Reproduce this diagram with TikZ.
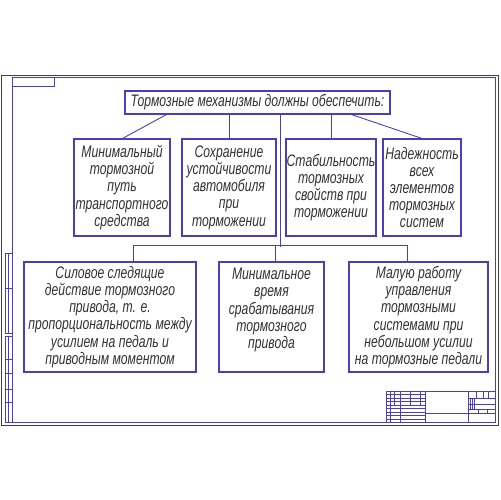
\documentclass[tikz,border=0pt]{standalone}
\usepackage{fontspec}
\setmainfont{Liberation Sans}[FakeStretch=0.73]
\usetikzlibrary{calc}
\definecolor{frameblue}{RGB}{72,62,190}
\definecolor{txt}{RGB}{50,50,50}
\begin{document}
\begin{tikzpicture}[x=0.02cm,y=-0.02cm,
  frameline/.style={draw=frameblue, line width=0.55pt},
  thinline/.style={draw=frameblue, line width=0.35pt},
  box/.style 2 args={draw=frameblue, line width=0.6pt, inner sep=0pt, align=center, text=txt,
    font=\itshape\fontsize{9.5}{9.8}\selectfont,
    minimum width=#1*0.02cm, minimum height=#2*0.02cm},
  conn/.style={draw=frameblue, line width=0.5pt}]
\useasboundingbox[fill=white] (0,0) rectangle (500,500);
% sheet and frame
\draw[black!75, line width=0.5pt] (1,75) rectangle (498,425);
\draw[frameline] (12,77) rectangle (495,422);
\draw[thinline] (12,77) rectangle (54,86);
% left strip
\draw[thinline] (5,253) rectangle (12,333);
\draw[thinline] (5,288) -- (12,288);
\draw[thinline] (8,253) -- (8,333);
\draw[thinline] (5,336) rectangle (12,422);
\foreach \yy in {359,373,389,402} \draw[thinline] (5,\yy) -- (12,\yy);
\draw[thinline] (8,336) -- (8,422);
% title block
\draw[thinline] (386,391) rectangle (495,422);
\foreach \xx in {390,400,425,468} \draw[thinline] (\xx,391) -- (\xx,422);
\foreach \xx in {394,410,420} \draw[thinline] (\xx,391) -- (\xx,405);
\foreach \yy in {394.5,398,401.5,405,408.5,412,415.5,419} \draw[thinline] (386,\yy) -- (425,\yy);
\draw[thinline] (425,413) -- (495,413);
\draw[thinline] (468,398) -- (495,398);
\draw[thinline] (468,404) -- (495,404);
\draw[thinline] (468,409) -- (495,409);
\foreach \xx in {476,483,488} \draw[thinline] (\xx,391) -- (\xx,398);
\foreach \xx in {470,472,474} \draw[thinline] (\xx,398) -- (\xx,409);
\foreach \xx in {478,487} \draw[thinline] (\xx,409) -- (\xx,413);
% nodes
\node[box={265}{23}] (top) at (257.5,102.5) {Тормозные механизмы должны обеспечить:};
\node[box={96}{97}] (A) at (122,187.5) {Минимальный\\тормозной\\путь\\транспортного\\средства};
\node[box={94}{97}] (B) at (229,187.5) {Сохранение\\устойчивости\\автомобиля\\при\\торможении};
\node[box={90}{97}] (C) at (331,187.5) {Стабильность\\тормозных\\свойств при\\торможении};
\node[box={78}{97}] (D) at (422,187.5) {Надежность\\всех\\элементов\\тормозных\\систем};
\node[box={172}{110}] (E) at (110,317) {Силовое следящие\\действие тормозного\\привода, т. е.\\пропорциональность между\\усилием на педаль и\\приводным моментом};
\node[box={105}{110}] (F) at (271.5,317) {Минимальное\\время\\срабатывания\\тормозного\\привода\\\mbox{}};
\node[box={139}{110}] (G) at (418.5,317) {Малую работу\\управления\\тормозными\\системами при\\небольшом усилии\\на тормозные педали};
% connectors
\draw[conn] ($(top.south west)+(42,0)$) -- ($(A.north west)+(49,0)$);
\draw[conn] (B.north |- top.south) -- (B.north);
\draw[conn] (C.north |- top.south) -- (C.north);
\draw[conn] ($(top.south west)+(227,0)$) -- (D.north);
\draw[conn] ($(top.south west)+(156,0)$) -- ++(0,132);
\draw[conn] ($(E.north west)+(110,0)$) -- ++(0,-16) -| ($(G.north west)+(59,0)$);
\draw[conn] ($(F.north west)+(57,0)$) -- ++(0,-16);
\end{tikzpicture}
\end{document}
